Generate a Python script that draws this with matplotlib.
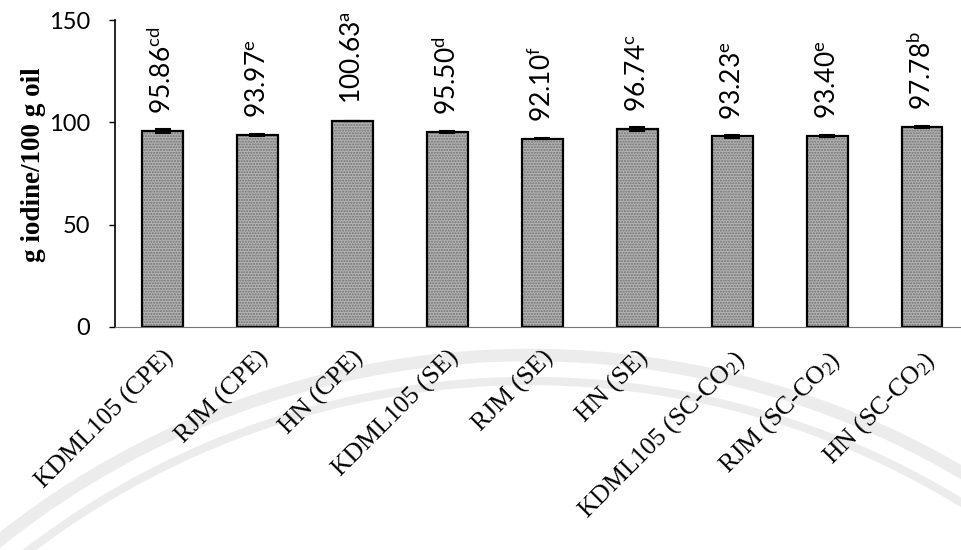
import matplotlib
matplotlib.use("Agg")
import matplotlib.pyplot as plt
import numpy as np
from matplotlib.patches import Circle
from matplotlib.transforms import IdentityTransform

# iodine value of rice bran oil by variety and extraction method
samples = ["KDML105 (CPE)", "RJM (CPE)", "HN (CPE)",
           "KDML105 (SE)", "RJM (SE)", "HN (SE)",
           r"KDML105 (SC-CO$_2$)", r"RJM (SC-CO$_2$)", r"HN (SC-CO$_2$)"]
iodine = [95.86, 93.97, 100.63, 95.50, 92.10, 96.74, 93.23, 93.40, 97.78]
sd = [0.9, 0.5, 0.2, 0.5, 0.2, 0.8, 0.8, 0.5, 0.5]
letters = ["cd", "e", "a", "d", "f", "c", "e", "e", "b"]

plt.rcParams['mathtext.default'] = 'regular'
plt.rcParams['hatch.linewidth'] = 1.0

fig = plt.figure(figsize=(9.61, 5.5), dpi=100)
fig.patch.set_facecolor("white")

# faint seal in the background (pixel coordinates)
for r, lw in [(852, 9), (826, 6)]:
    fig.add_artist(Circle((530, 550 - 1207), r, fill=False, ec="#ececec",
                          lw=lw, transform=IdentityTransform(), zorder=0))

ax = fig.add_axes([0.1197, 0.4055, 0.8793, 0.5581])
ax.patch.set_alpha(0)

x = np.arange(len(samples))
# speckled fill, then the black outline on top
ax.bar(x, iodine, width=0.43, color="#b4b4b4", edgecolor="#707070",
       hatch="......", linewidth=0, zorder=2)
ax.bar(x, iodine, width=0.43, fill=False, edgecolor="black",
       linewidth=1.6, zorder=2)
ax.errorbar(x, iodine, yerr=sd, fmt="none", ecolor="black",
            elinewidth=1.2, capsize=6, capthick=1.5, zorder=3)

for xi, v, s in zip(x, iodine, letters):
    ax.annotate(f"${v:.2f}^{{{s}}}$", (xi, v), xytext=(0, 12),
                textcoords="offset points", rotation=90, ha="center",
                va="bottom", fontsize=19, family="Lato")

ax.set_xlim(-0.5, 8.4)
ax.set_ylim(0, 150)
ax.set_yticks([0, 50, 100, 150])
ax.tick_params(axis="y", labelsize=17, length=4, width=1, pad=14)
for lab in ax.get_yticklabels():
    lab.set_family("Lato")
ax.set_xticks(x)
ax.set_xticklabels(samples, rotation=45, ha="right", va="top",
                   rotation_mode="anchor", fontsize=18.5,
                   family="Liberation Serif")
ax.tick_params(axis="x", length=0, pad=14)

ax.set_ylabel("g iodine/100 g oil", fontsize=19.5, fontweight="bold",
              family="Liberation Serif")
ax.yaxis.set_label_coords(-0.082, 0.53)

ax.spines["top"].set_visible(False)
ax.spines["right"].set_visible(False)
ax.spines["left"].set_linewidth(1.2)
ax.spines["bottom"].set_color("#777777")

fig.savefig("out.png", dpi=100)
